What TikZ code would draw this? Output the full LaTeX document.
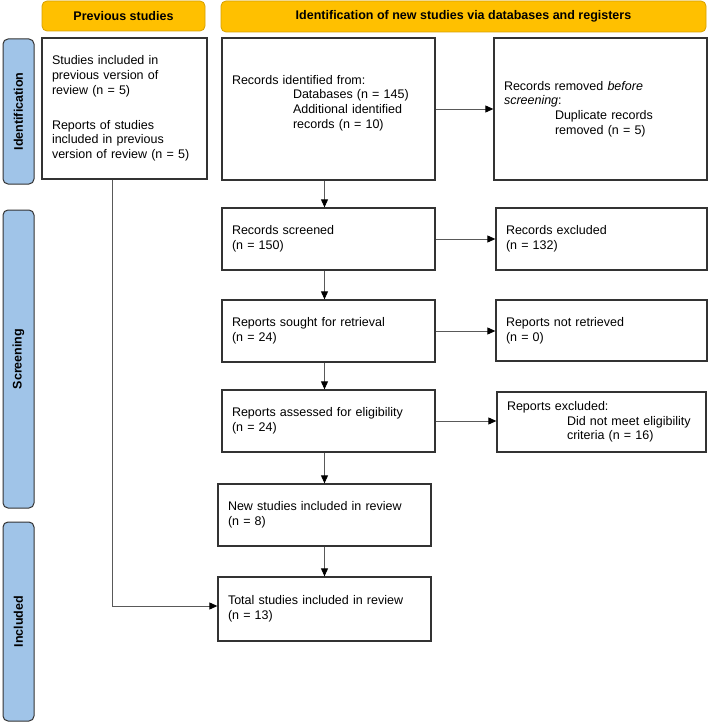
\documentclass[tikz,border=0pt]{standalone}
\usepackage{fontspec}
\setmainfont{Liberation Sans}
\usetikzlibrary{positioning,arrows.meta,calc}

\begin{document}
\begin{tikzpicture}[x=1pt,y=-1pt,
  every node/.style={font=\fontsize{12.5}{14.7}\selectfont},
  box/.style={draw=black!80,line width=1.3pt,align=left,inner sep=0pt,
    minimum width=213pt,minimum height=62pt},
  header/.style={draw=hdrline,fill=hdrfill,line width=0.8pt,rounded corners=5pt,
    font=\fontsize{12.5}{14.7}\selectfont\bfseries,inner sep=0pt},
  phase/.style={draw=black!80,fill=phasefill,line width=1pt,rounded corners=5pt,
    rotate=90,font=\fontsize{12.5}{14.7}\selectfont\bfseries,inner sep=0pt,minimum height=31pt},
  arr/.style={draw=black!65,line width=0.9pt,-{Triangle[length=8pt,width=7pt,fill=black,color=black]}}]

\definecolor{hdrfill}{RGB}{255,192,0}
\definecolor{hdrline}{RGB}{214,160,0}
\definecolor{phasefill}{RGB}{160,196,232}

\useasboundingbox (0,0) rectangle (709,722);

% ===================== HEADERS =====================
\node[header,minimum width=163pt,minimum height=30pt] (hprev) at (123.5,16) {Previous studies};
\node[header,minimum width=485pt,minimum height=31pt] (hnew) at (463.5,16.5)
  {Identification of new studies via databases and registers};

% ===================== PHASES =====================
\node[phase,minimum width=145pt] (pident) at (18.5,111.5) {Identification};
\node[phase,minimum width=298pt] (pscreen) at (18.5,359) {Screening};
\node[phase,minimum width=199pt] (pincl) at (18.5,621.5) {Included};

% ===================== PREVIOUS STUDIES =====================
\node[box,minimum width=165pt,minimum height=141pt,text width=145pt] (prev) at (124.5,108.5)
  {Studies included in\\previous version of\\review (n = 5)\\[20pt]
   Reports of studies\\included in previous\\version of review (n = 5)};

% ===================== NEW STUDIES =====================
\node[box,minimum height=142pt,text width=193pt] (ident) at (328.5,109)
  {Records identified from:\\
   \hspace*{61pt}Databases (n = 145)\\
   \hspace*{61pt}Additional identified\\
   \hspace*{61pt}records (n = 10)\\ \mbox{}};
\node[box,minimum height=142pt,text width=193pt] (removed) at (600.5,109)
  {Records removed \emph{before}\\\emph{screening}:\\
   \hspace*{51pt}Duplicate records\\
   \hspace*{51pt}removed (n = 5)};

\node[box,text width=193pt] (screened) at (328.5,239) {Records screened\\(n = 150)};
\node[box,minimum width=211pt,text width=191pt] (excl) at (601.5,239) {Records excluded\\(n = 132)};

\node[box,text width=193pt] (sought) at (328.5,331) {Reports sought for retrieval\\(n = 24)};
\node[box,minimum width=211pt,minimum height=61pt,text width=191pt] (notret) at (601.5,330.5)
  {Reports not retrieved\\(n = 0)};

\node[box,text width=193pt] (assessed) at (328.5,421) {Reports assessed for eligibility\\(n = 24)};
\node[box,minimum width=209pt,minimum height=60pt,text width=189pt] (rexcl) at (601.5,422)
  {Reports excluded:\\
   \hspace*{60pt}Did not meet eligibility\\
   \hspace*{60pt}criteria (n = 16)};

\node[box,text width=193pt] (newinc) at (324.5,515) {New studies included in review\\(n = 8)};
\node[box,minimum height=64pt,text width=193pt] (total) at (324.5,609)
  {Total studies included in review\\(n = 13)};

% ===================== ARROWS =====================
\draw[arr] (ident.south -| newinc) -- (screened.north -| newinc);
\draw[arr] (screened.south -| newinc) -- (sought.north -| newinc);
\draw[arr] (sought.south -| newinc) -- (assessed.north -| newinc);
\draw[arr] (assessed.south -| newinc) -- (newinc.north);
\draw[arr] (newinc) -- (total);

\draw[arr] (ident.east) -- (removed.west |- ident.east);
\draw[arr] (screened.east) -- (excl.west |- screened.east);
\draw[arr] (sought.east) -- (notret.west |- sought.east);
\draw[arr] (assessed.east) -- (rexcl.west |- assessed.east);

\draw[arr] ([xshift=-12.5pt]prev.south) |- ([yshift=3pt]total.west);

\end{tikzpicture}
\end{document}
